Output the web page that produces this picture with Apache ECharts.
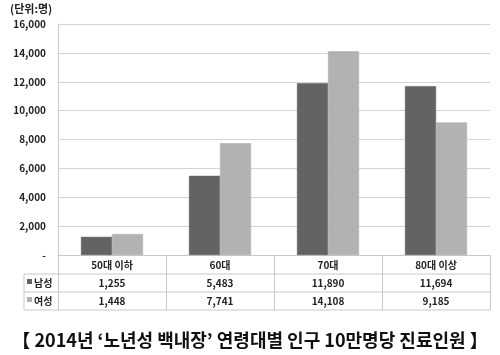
<!DOCTYPE html>
<html><head><meta charset="utf-8">
<script src="https://cdn.jsdelivr.net/npm/echarts@6/dist/echarts.min.js"></script>
<style>html,body{margin:0;padding:0;background:#fff}#c{width:500px;height:355px}</style>
</head><body><div id="c"></div>
<script>
const categories = ['50대 이하', '60대', '70대', '80대 이상'];
const seriesNames = ['남성', '여성'];
const maleValues = [1255, 5483, 11890, 11694];
const femaleValues = [1448, 7741, 14108, 9185];
const yTicks = [0, 2000, 4000, 6000, 8000, 10000, 12000, 14000, 16000];
const unitLabel = '(단위:명)';
const titleText = '【 2014년 ‘노년성 백내장’ 연령대별 인구 10만명당 진료인원 】';

const FONT = '"Noto Sans CJK KR", "Noto Sans", sans-serif';
const colors = ['#636363', '#b2b2b2'];
const fmt = v => v.toLocaleString('en-US');

const chart = echarts.init(document.getElementById('c'));
const lineStyle = {stroke: '#c8c8c8', lineWidth: 1};
chart.setOption({
  animation: false,
  textStyle: {fontFamily: FONT},
  grid: {left: 58, right: 10, top: 24, bottom: 100},
  xAxis: {
    type: 'category', data: categories,
    axisLine: {show: true, lineStyle: {color: '#c8c8c8'}},
    axisTick: {show: true, length: 55, lineStyle: {color: '#c8c8c8'}},
    axisLabel: {
      margin: 1, interval: 0,
      formatter: (v, i) => `{h|${v}}\n{v|${fmt(maleValues[i])}}\n{v|${fmt(femaleValues[i])}}`,
      rich: {
        h: {fontSize: 10, fontWeight: 'bold', color: '#222', lineHeight: 18, fontFamily: FONT},
        v: {fontSize: 10, fontWeight: 'bold', color: '#222', lineHeight: 18, fontFamily: FONT}
      }
    }
  },
  yAxis: {
    type: 'value', min: yTicks[0], max: yTicks[yTicks.length - 1], interval: 2000,
    axisLine: {show: true, lineStyle: {color: '#c8c8c8'}},
    axisTick: {show: false},
    splitLine: {lineStyle: {color: '#d4d4d4'}},
    axisLabel: {margin: 12, fontSize: 10, fontWeight: 'bold', color: '#222',
      formatter: v => v === 0 ? '-' : fmt(v)}
  },
  series: [
    {name: seriesNames[0], type: 'bar', data: maleValues, barWidth: 31, barGap: '0%',
     itemStyle: {color: colors[0], borderColor: '#555', borderWidth: 0.5}},
    {name: seriesNames[1], type: 'bar', data: femaleValues, barWidth: 31, barGap: '0%',
     itemStyle: {color: colors[1], borderColor: '#a8a8a8', borderWidth: 0.5}}
  ],
  graphic: [
    {type: 'text', left: 10, top: 3, style: {text: unitLabel, font: 'bold 11px ' + FONT, fill: '#222'}},
    {type: 'line', shape: {x1: 24, y1: 274, x2: 490, y2: 274}, style: lineStyle},
    {type: 'line', shape: {x1: 24, y1: 292, x2: 490, y2: 292}, style: lineStyle},
    {type: 'line', shape: {x1: 24, y1: 310, x2: 490, y2: 310}, style: lineStyle},
    {type: 'line', shape: {x1: 24, y1: 274, x2: 24, y2: 310}, style: lineStyle},
    {type: 'rect', shape: {x: 27, y: 279, width: 5, height: 5}, style: {fill: colors[0]}},
    {type: 'rect', shape: {x: 27, y: 297, width: 5, height: 5}, style: {fill: colors[1]}},
    {type: 'text', x: 34, y: 283, style: {text: seriesNames[0], font: 'bold 10px ' + FONT, fill: '#222', verticalAlign: 'middle'}},
    {type: 'text', x: 34, y: 301, style: {text: seriesNames[1], font: 'bold 10px ' + FONT, fill: '#222', verticalAlign: 'middle'}},
    {type: 'text', x: 250, y: 340, style: {text: titleText, font: 'bold 18px ' + FONT, fill: '#111', align: 'center', verticalAlign: 'middle'}}
  ]
});
</script></body></html>
